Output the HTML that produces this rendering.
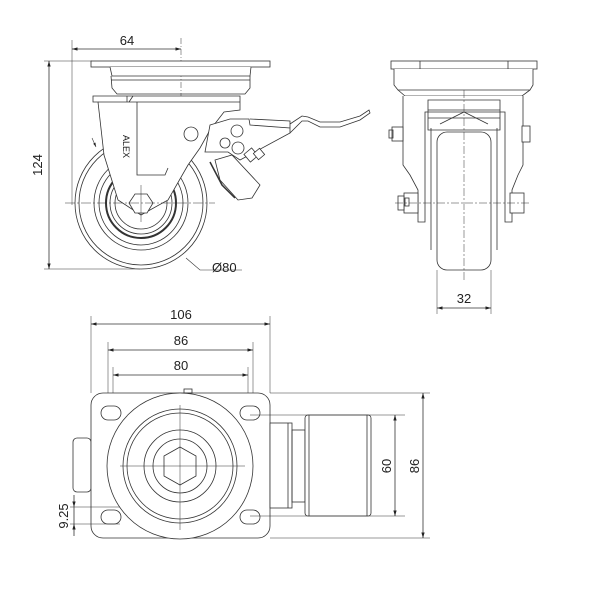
<!DOCTYPE html>
<html><head><meta charset="utf-8"><style>
html,body{margin:0;padding:0;background:#fff;}
svg{display:block;}
text{font-family:"Liberation Sans",sans-serif;font-size:13px;fill:#222;}
</style></head><body>
<svg width="600" height="600" viewBox="0 0 600 600" xmlns="http://www.w3.org/2000/svg">
<defs>
<marker id="a" viewBox="0 0 10 10" refX="10" refY="5" markerWidth="7" markerHeight="7" orient="auto-start-reverse"><path d="M0,2 L10,5 L0,8 z" fill="#222"/></marker>
</defs>
<g fill="none" stroke="#333" stroke-width="0.8">
<!-- ===== SIDE VIEW ===== -->
<!-- dims -->
<line x1="72" y1="40" x2="72" y2="205" stroke-width="0.5"/>
<line x1="181" y1="38" x2="181" y2="96" stroke-width="0.5" stroke-dasharray="6 2 1 2"/>
<line x1="72" y1="49" x2="181" y2="49" marker-start="url(#a)" marker-end="url(#a)"/>
<line x1="44" y1="61" x2="92" y2="61" stroke-width="0.5"/>
<line x1="44" y1="269" x2="140" y2="269" stroke-width="0.5"/>
<line x1="49" y1="61" x2="49" y2="269" marker-start="url(#a)" marker-end="url(#a)"/>
<!-- top plate -->
<rect x="91" y="61" width="179" height="6" fill="#fff"/>
<path d="M110,67 L112,76 L250,76 L251,67" fill="#fff"/>
<path d="M111,76 L112,88 L117,94 L245,94 L250,88 L250,76"/>
<line x1="111" y1="80" x2="250" y2="80"/>
<!-- wheel -->
<circle cx="141" cy="203" r="66" fill="#fff"/>
<circle cx="141" cy="203" r="62"/>
<circle cx="141" cy="203" r="47"/>
<circle cx="141" cy="203" r="42"/>
<circle cx="141" cy="203" r="35" stroke-width="2"/>
<circle cx="141" cy="203" r="31"/>
<circle cx="141" cy="203" r="26"/>
<!-- fork -->
<path d="M93,96 L240,96 L240,110 L224,112 L210,130 L200,148 L188,165 L168,200 L141,215 L118,200 L104,155 L98,102 L93,102 Z" fill="#fff"/>
<path d="M137,102 L137,175 L165,175 L168,168"/>
<line x1="98" y1="102" x2="240" y2="102"/>
<line x1="127" y1="96" x2="127" y2="102"/>
<path d="M129,102 L133,96"/>
<polygon points="135,194 147,194 153,203 147,213 135,213 129,203" fill="#fff"/>
<!-- brake -->
<path d="M210,125 L230,119 L249,119 L250,125 L290,128 L290,133 L240,160 L228,152 L205,152 Z" fill="#fff"/>
<path d="M250,119 L290,121 L290,128"/>
<path d="M290,124 L302,116 L308,117 L320,122 L340,122 L360,116 L369,110 L370,113 L360,120 L340,127 L320,127 L308,121 L302,121 L290,133"/>
<circle cx="191" cy="134" r="7" fill="#fff"/>
<circle cx="237" cy="131" r="6"/>
<circle cx="225" cy="143" r="5"/>
<circle cx="238" cy="148" r="6"/>
<path d="M215,160 L232,155 L260,185 L252,198 L238,200 L220,180 Z" fill="#fff"/>
<path d="M210,162 L222,185 L235,198" stroke-width="1.5"/>
<rect x="246" y="150" width="10" height="10" transform="rotate(-40 251 155)" fill="#fff"/>
<rect x="255" y="150" width="8" height="8" transform="rotate(-40 259 154)" fill="#fff"/>
<!-- text ALEX -->
<!-- centerlines -->
<line x1="65" y1="203" x2="215" y2="203" stroke-width="0.5" stroke-dasharray="10 2 2 2"/>
<line x1="141" y1="185" x2="141" y2="222" stroke-width="0.5"/>
<!-- Ø80 leader -->
<polyline points="186,258 200,270 242,270" stroke-width="0.6"/>
<line x1="92" y1="138" x2="96" y2="147" marker-end="url(#a)" stroke-width="0.6"/>

<!-- ===== FRONT VIEW ===== -->
<rect x="391" y="61" width="146" height="8" fill="#fff"/>
<line x1="420" y1="61" x2="420" y2="69"/><line x1="508" y1="61" x2="508" y2="69"/>
<path d="M394,69 L394,85 L398,90 L530,90 L533,85 L533,69" fill="#fff"/>
<path d="M398,90 L405,96 L522,96 L530,90"/>
<path d="M403,96 L403,165 L410,175 L418,190 L418,222 L425,222 L425,112 L505,112 L505,222 L512,222 L512,190 L518,175 L523,165 L523,96" fill="#fff"/>
<path d="M428,100 L500,100 L500,130 L428,130 Z"/>
<line x1="428" y1="110" x2="500" y2="110"/><line x1="428" y1="118" x2="500" y2="118"/>
<path d="M440,124 L464,112 L488,124"/>
<rect x="437" y="132" width="54" height="138" rx="10" fill="#fff"/>
<line x1="431" y1="128" x2="431" y2="250"/><line x1="497" y1="128" x2="497" y2="250"/>
<rect x="392" y="127" width="11" height="14" fill="#fff"/><rect x="389" y="130" width="4" height="8"/>
<rect x="522" y="126" width="8" height="16" fill="#fff"/>
<rect x="404" y="193" width="14" height="20" fill="#fff"/><rect x="398" y="196" width="6" height="14" fill="#fff"/><rect x="405" y="198" width="4" height="8"/>
<rect x="510" y="193" width="14" height="20" fill="#fff"/>
<line x1="464" y1="90" x2="464" y2="280" stroke-width="0.5" stroke-dasharray="8 2 2 2"/>
<line x1="395" y1="203" x2="530" y2="203" stroke-width="0.5" stroke-dasharray="8 2 2 2"/>
<line x1="437" y1="270" x2="437" y2="314" stroke-width="0.5"/>
<line x1="491" y1="270" x2="491" y2="314" stroke-width="0.5"/>
<line x1="437" y1="308" x2="491" y2="308" marker-start="url(#a)" marker-end="url(#a)"/>

<!-- ===== BOTTOM VIEW ===== -->
<line x1="91" y1="316" x2="91" y2="393" stroke-width="0.5"/>
<line x1="270" y1="316" x2="270" y2="393" stroke-width="0.5"/>
<line x1="108" y1="342" x2="108" y2="413" stroke-width="0.5"/>
<line x1="253" y1="342" x2="253" y2="413" stroke-width="0.5"/>
<line x1="113" y1="367" x2="113" y2="413" stroke-width="0.5"/>
<line x1="248" y1="367" x2="248" y2="413" stroke-width="0.5"/>
<line x1="91" y1="324" x2="270" y2="324" marker-start="url(#a)" marker-end="url(#a)"/>
<line x1="108" y1="350" x2="253" y2="350" marker-start="url(#a)" marker-end="url(#a)"/>
<line x1="113" y1="375" x2="248" y2="375" marker-start="url(#a)" marker-end="url(#a)"/>
<rect x="73" y="438" width="18" height="54" rx="4" fill="#fff"/>
<rect x="91" y="393" width="179" height="145" rx="12" fill="#fff"/>
<rect x="101" y="406" width="20" height="14" rx="7"/>
<rect x="240" y="406" width="20" height="14" rx="7"/>
<rect x="101" y="510" width="20" height="14" rx="7"/>
<rect x="240" y="510" width="20" height="14" rx="7"/>
<rect x="184" y="389" width="8" height="4"/>
<circle cx="180" cy="466" r="73" fill="#fff"/>
<circle cx="180" cy="466" r="57"/>
<circle cx="180" cy="466" r="53"/>
<circle cx="180" cy="466" r="36"/>
<circle cx="180" cy="466" r="27"/>
<polygon points="180,447 196,456 196,476 180,485 164,476 164,456" fill="#fff"/>
<line x1="120" y1="466" x2="245" y2="466" stroke-width="0.5"/>
<line x1="180" y1="405" x2="180" y2="530" stroke-width="0.5"/>
<rect x="270" y="423" width="22" height="85" fill="#fff"/>
<line x1="288" y1="423" x2="288" y2="508"/>
<rect x="292" y="430" width="13" height="72"/>
<rect x="305" y="415" width="66" height="101" rx="3" fill="#fff"/>
<line x1="309" y1="415" x2="309" y2="516"/><line x1="367" y1="415" x2="367" y2="516"/>
<line x1="270" y1="393" x2="430" y2="393" stroke-width="0.5"/>
<line x1="270" y1="538" x2="430" y2="538" stroke-width="0.5"/>
<line x1="250" y1="415" x2="405" y2="415" stroke-width="0.5"/>
<line x1="250" y1="516" x2="405" y2="516" stroke-width="0.5"/>
<line x1="395" y1="415" x2="395" y2="516" marker-start="url(#a)" marker-end="url(#a)"/>
<line x1="423" y1="393" x2="423" y2="538" marker-start="url(#a)" marker-end="url(#a)"/>
<line x1="70" y1="507" x2="120" y2="507" stroke-width="0.5"/>
<line x1="70" y1="524" x2="120" y2="524" stroke-width="0.5"/>
<line x1="74" y1="495" x2="74" y2="507" marker-end="url(#a)"/>
<line x1="74" y1="536" x2="74" y2="524" marker-end="url(#a)"/>
<line x1="74" y1="507" x2="74" y2="524"/>
</g>
<text x="127" y="45" text-anchor="middle">64</text>
<text transform="translate(42,165) rotate(-90)" text-anchor="middle">124</text>
<text x="212" y="272" >Ø80</text>
<text x="464" y="303" text-anchor="middle">32</text>
<text x="181" y="319" text-anchor="middle">106</text>
<text x="181" y="345" text-anchor="middle">86</text>
<text x="181" y="370" text-anchor="middle">80</text>
<text transform="translate(391,466) rotate(-90)" text-anchor="middle">60</text>
<text transform="translate(419,466) rotate(-90)" text-anchor="middle">86</text>
<text transform="translate(68,516) rotate(-90)" text-anchor="middle">9.25</text>
<text transform="translate(123,135) rotate(90)" style="font-size:9px">ALEX</text>
</svg>
</body></html>
